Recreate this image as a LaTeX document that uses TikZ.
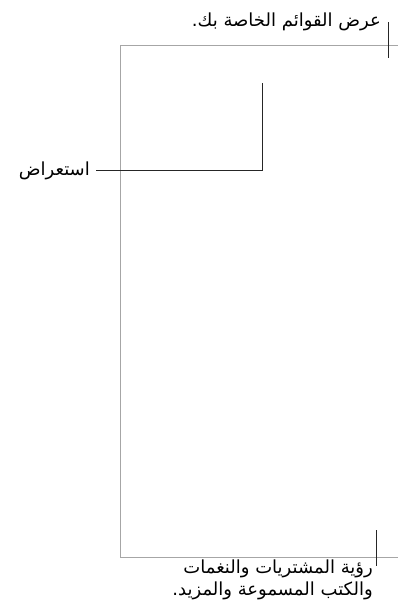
\documentclass[tikz,border=0pt]{standalone}
\usepackage{fontspec}
\TeXXeTstate=1
\newfontfamily\arabicfont[Script=Arabic]{DejaVu Sans}
\begin{document}
\begin{tikzpicture}[x=1pt,y=-1pt,
  frame/.style={draw=black!35,line width=0.9pt},
  callout/.style={draw=black!85,line width=1pt},
  lbl/.style={font=\arabicfont\fontsize{18}{22}\selectfont,inner sep=0pt,align=right}]
\useasboundingbox (0,0) rectangle (398,603);
% frame
\coordinate (tl) at (120,45);
\coordinate (tr) at (398,45);
\coordinate (bl) at (120,557);
\coordinate (br) at (398,557);
\draw[frame] (tr) -- (tl) -- (bl) -- (br);
% callout 1
\coordinate (c1a) at (388,22);
\coordinate (c1b) at (388,58);
\draw[callout] (c1a) -- (c1b);
\node[lbl,anchor=base east] (t1) at (381,26) {\beginR عرض القوائم الخاصة بك.\endR};
% callout 2
\coordinate (c2a) at (262,83);
\coordinate (c2b) at (262,170);
\coordinate (c2c) at (96,170);
\node[lbl,anchor=east] (t2) at (90,171) {\beginR استعراض\endR};
\draw[callout] (c2a) -- (c2b) -- (c2c);
% callout 3
\coordinate (c3a) at (376,530);
\coordinate (c3b) at (376,566);
\draw[callout] (c3a) -- (c3b);
\node[lbl,anchor=base east] (t3) at (373,573) {\beginR رؤية المشتريات والنغمات\endR};
\node[lbl,anchor=base east] (t4) at (373,595) {\beginR والكتب المسموعة والمزيد.\endR};
\end{tikzpicture}
\end{document}
